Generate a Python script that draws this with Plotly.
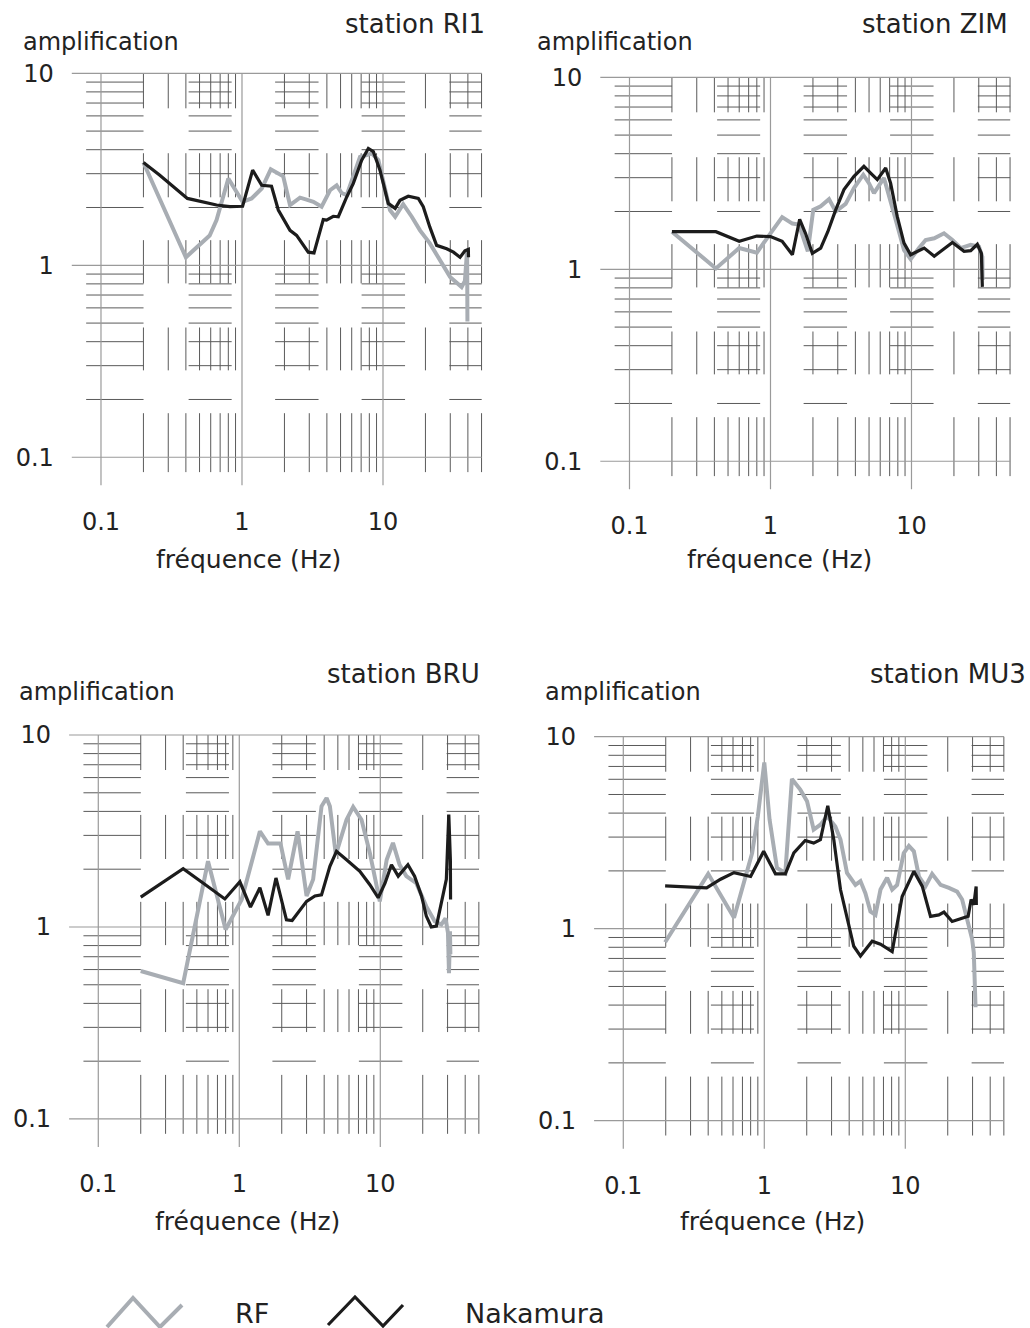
import numpy as np
import plotly.graph_objects as go

# ---------------- data ----------------
stations = ["RI1", "ZIM", "BRU", "MU3"]

ri1_nak_f = [0.20, 0.26, 0.41, 0.66, 0.82, 1.01, 1.19, 1.38, 1.62, 1.81, 2.19, 2.44, 2.95, 3.24, 3.77, 3.98,
             4.44, 4.82, 5.53, 6.16, 7.06, 7.87, 8.54, 9.52, 10.9, 12.2, 13.2, 15.1, 17.8, 19.3, 21.5, 24.0,
             28.3, 31.6, 35.2, 38.1, 40.3, 40.4]
ri1_nak_a = [3.43, 2.95, 2.23, 2.06, 2.02, 2.03, 3.13, 2.61, 2.58, 1.94, 1.52, 1.43, 1.17, 1.16, 1.73, 1.72,
             1.80, 1.79, 2.27, 2.67, 3.53, 4.06, 3.91, 3.13, 2.10, 1.98, 2.18, 2.29, 2.23, 2.02, 1.58, 1.27,
             1.22, 1.17, 1.10, 1.19, 1.21, 1.10]
ri1_rf_f = [0.20, 0.40, 0.59, 0.66, 0.80, 1.01, 1.17, 1.38, 1.60, 1.96, 2.19, 2.58, 2.87, 3.21, 3.67, 4.21,
            4.69, 5.09, 5.53, 6.16, 6.87, 7.66, 8.32, 9.27, 10.3, 11.2, 12.2, 13.9, 16.0, 18.3, 21.5, 25.3,
            29.9, 36.1, 38.1, 39.5, 39.7]
ri1_rf_a = [3.43, 1.10, 1.43, 1.72, 2.83, 2.14, 2.23, 2.51, 3.16, 2.91, 2.06, 2.25, 2.20, 2.14, 2.02, 2.46,
            2.61, 2.38, 2.32, 2.89, 3.67, 3.75, 3.83, 3.53, 2.56, 1.94, 1.79, 2.08, 1.79, 1.52, 1.30, 1.06,
            0.87, 0.77, 0.83, 1.20, 0.51]

zim_nak_f = [0.20, 0.41, 0.60, 0.80, 1.00, 1.21, 1.43, 1.61, 1.77, 1.98, 2.27, 2.55, 2.90, 3.32, 3.91, 4.60,
             5.13, 5.72, 6.56, 7.11, 7.93, 8.85, 9.86, 11.0, 12.3, 14.5, 16.6, 19.5, 23.6, 26.3, 29.3, 31.3, 31.8]
zim_nak_a = [1.57, 1.57, 1.40, 1.49, 1.48, 1.40, 1.19, 1.82, 1.54, 1.21, 1.29, 1.57, 2.04, 2.60, 3.05, 3.44,
             3.17, 2.93, 3.37, 2.81, 1.88, 1.37, 1.19, 1.24, 1.29, 1.17, 1.26, 1.38, 1.24, 1.25, 1.35, 1.21, 0.81]
zim_rf_f = [0.20, 0.41, 0.60, 0.80, 1.00, 1.21, 1.43, 1.59, 1.84, 2.01, 2.27, 2.60, 2.90, 3.41, 3.91, 4.55,
            4.99, 5.42, 6.38, 7.11, 7.85, 8.85, 9.86, 11.3, 12.6, 14.5, 17.0, 19.5, 22.3, 26.3, 30.1, 31.8, 31.9]
zim_rf_a = [1.57, 1.01, 1.29, 1.22, 1.54, 1.87, 1.73, 1.71, 1.24, 2.04, 2.13, 2.32, 2.00, 2.19, 2.65, 3.11,
            2.81, 2.49, 2.99, 2.30, 1.74, 1.26, 1.13, 1.29, 1.42, 1.45, 1.54, 1.42, 1.29, 1.34, 1.31, 1.16, 0.88]

bru_nak_f = [0.20, 0.40, 0.556, 0.79, 1.01, 1.20, 1.40, 1.60, 1.82, 2.16, 2.37, 2.69, 3.00, 3.44, 3.83, 4.39,
             4.89, 5.76, 7.16, 8.43, 9.66, 10.8, 12.0, 13.4, 15.7, 17.5, 19.6, 21.2, 23.0, 25.0, 27.1, 29.4,
             30.6, 31.4, 31.5]
bru_nak_a = [1.43, 2.01, 1.69, 1.40, 1.72, 1.27, 1.60, 1.15, 1.80, 1.09, 1.08, 1.23, 1.36, 1.45, 1.47, 2.07,
             2.48, 2.24, 1.95, 1.66, 1.42, 1.69, 2.11, 1.84, 2.11, 1.84, 1.45, 1.14, 1.00, 1.01, 1.36, 1.77,
             3.85, 2.24, 1.39]
bru_rf_f = [0.20, 0.40, 0.60, 0.80, 1.04, 1.40, 1.60, 1.96, 2.22, 2.59, 3.00, 3.34, 3.83, 4.16, 4.39, 4.84,
            5.76, 6.42, 7.36, 8.43, 9.92, 11.1, 12.3, 13.7, 15.3, 18.0, 21.2, 24.3, 27.1, 29.0, 30.2, 30.7,
            31.2, 31.4]
bru_rf_a = [0.59, 0.51, 2.20, 0.97, 1.39, 3.15, 2.72, 2.72, 1.77, 3.15, 1.45, 1.77, 4.25, 4.70, 4.25, 2.38,
            3.62, 4.22, 3.62, 2.43, 1.36, 2.24, 2.74, 2.11, 1.84, 1.69, 1.28, 1.07, 1.03, 1.11, 0.93, 0.575,
            0.95, 0.72]

mu3_nak_f = [0.198, 0.253, 0.39, 0.49, 0.61, 0.80, 0.99, 1.20, 1.41, 1.62, 1.95, 2.24, 2.50, 2.82, 3.11, 3.47,
             3.86, 4.31, 4.81, 5.82, 6.67, 8.07, 9.50, 11.5, 13.2, 15.1, 17.3, 18.8, 21.5, 25.3, 27.9, 29.3,
             30.6, 31.8, 31.9]
mu3_nak_a = [1.67, 1.66, 1.63, 1.81, 1.96, 1.87, 2.53, 1.93, 1.93, 2.48, 2.88, 2.79, 2.91, 4.37, 2.91, 1.60,
             1.16, 0.81, 0.72, 0.86, 0.83, 0.76, 1.47, 1.99, 1.66, 1.16, 1.18, 1.22, 1.09, 1.14, 1.16, 1.42,
             1.33, 1.66, 1.33]
mu3_rf_f = [0.198, 0.28, 0.40, 0.61, 0.71, 0.82, 0.90, 1.00, 1.09, 1.23, 1.41, 1.57, 1.80, 2.01, 2.24, 2.50,
            2.79, 3.19, 3.47, 3.86, 4.43, 4.81, 5.21, 5.66, 6.14, 6.67, 7.43, 8.07, 8.75, 9.75, 10.6, 11.5,
            12.5, 13.9, 15.5, 17.8, 20.4, 23.3, 25.3, 28.2, 29.8, 30.6, 31.5]
mu3_rf_a = [0.85, 1.28, 1.93, 1.14, 1.73, 2.48, 3.85, 7.35, 3.70, 2.07, 1.95, 6.02, 5.30, 4.61, 3.28, 3.48,
            3.85, 3.41, 2.91, 1.95, 1.69, 1.77, 1.53, 1.23, 1.18, 1.60, 1.84, 1.60, 1.69, 2.48, 2.70, 2.53,
            1.87, 1.66, 1.93, 1.69, 1.63, 1.56, 1.42, 1.03, 0.88, 0.75, 0.39]

rf_series = [(ri1_rf_f, ri1_rf_a), (zim_rf_f, zim_rf_a), (bru_rf_f, bru_rf_a), (mu3_rf_f, mu3_rf_a)]
nak_series = [(ri1_nak_f, ri1_nak_a), (zim_nak_f, zim_nak_a), (bru_nak_f, bru_nak_a), (mu3_nak_f, mu3_nak_a)]

tick_vals = [0.1, 1, 10]
tick_text = ["0.1", "1", "10"]
legend_names = ["RF", "Nakamura"]

# ---------------- styling / layout ----------------
W, H = 1030, 1328
XR = (-1.207, 1.70)
YR = (-1.146, 1.0)
PANEL_H = 412.0
FONT = "DejaVu Sans"
TXT = "#222222"
GRAY = "#a8adb3"
BLACK = "#1c1c1c"
MINOR_C = "#5a5a5a"
MAJOR_C = "#9a9a9a"

# panel pixel geometry: left, right, top (px)
geo = [(71.8, 481.7, 73.3), (600.3, 1010.2, 77.3), (69.1, 479.0, 735.0), (594.1, 1004.0, 736.7)]
amp_pos = [(21, 50), (535, 50), (17, 700), (543, 700)]
st_pos = [(487, 33), (1010, 33), (482, 683), (1028, 683)]
fr_pos = [(248.5, 568), (779, 568), (247, 1230), (772, 1230)]

XB = [(0.035, 0.175), (0.285, 0.39), (0.496, 0.602), (0.707, 0.813), (0.921, 1.0)]
YB = [(0.915, 1.0), (0.699, 0.806), (0.49, 0.595), (0.279, 0.383), (0.032, 0.175)]

minor_x = [m * d for d in (0.1, 1, 10) for m in range(2, 10) if m * d <= 50]
minor_y = [m * d for d in (0.1, 1) for m in range(2, 10)]


def xf(v):
    return (np.log10(v) - XR[0]) / (XR[1] - XR[0])


def yf(v):
    return (np.log10(v) - YR[0]) / (YR[1] - YR[0])


def bl_center(base, fs):
    return base - 0.346 * fs


fig = go.Figure()
shapes = []
annotations = []

for i, (left, right, top) in enumerate(geo):
    n = i + 1
    sfx = "" if n == 1 else str(n)
    bottom = top + PANEL_H
    xdom = [left / W, right / W]
    ydom = [1 - bottom / H, 1 - top / H]
    fig.update_layout(**{
        f"xaxis{sfx}": dict(domain=xdom, type="log", range=list(XR), anchor=f"y{sfx}",
                            showgrid=False, zeroline=False, showline=False, ticks="",
                            automargin=False,
                            tickvals=tick_vals, ticktext=tick_text, ticklabelstandoff=20,
                            tickfont=dict(family=FONT, size=24, color=TXT)),
        f"yaxis{sfx}": dict(domain=ydom, type="log", range=list(YR), anchor=f"x{sfx}",
                            showgrid=False, zeroline=False, showline=False, ticks="",
                            automargin=False,
                            tickvals=tick_vals, ticktext=tick_text, ticklabelstandoff=17,
                            tickfont=dict(family=FONT, size=24, color=TXT)),
    })
    xr = f"x{sfx} domain"
    yr = f"y{sfx} domain"
    # minor vertical grid segments
    for v in minor_x:
        fx = xf(v)
        for (b0, b1) in YB:
            shapes.append(dict(type="line", xref=xr, yref=yr, x0=fx, x1=fx, y0=b0, y1=b1,
                               line=dict(color=MINOR_C, width=1), layer="below"))
    # minor horizontal grid segments
    for v in minor_y:
        fy = yf(v)
        for (a0, a1) in XB:
            shapes.append(dict(type="line", xref=xr, yref=yr, x0=a0, x1=a1, y0=fy, y1=fy,
                               line=dict(color=MINOR_C, width=1), layer="below"))
    # major lines
    for v in tick_vals:
        fx = xf(v)
        shapes.append(dict(type="line", xref=xr, yref=yr, x0=fx, x1=fx, y0=0, y1=1,
                           line=dict(color=MAJOR_C, width=1.2), layer="below"))
        fy = yf(v)
        shapes.append(dict(type="line", xref=xr, yref=yr, x0=0, x1=1, y0=fy, y1=fy,
                           line=dict(color=MAJOR_C, width=1.2), layer="below"))

    # data traces
    rf_f, rf_a = rf_series[i]
    nk_f, nk_a = nak_series[i]
    fig.add_trace(go.Scatter(x=rf_f, y=rf_a, mode="lines", name=legend_names[0],
                             line=dict(color=GRAY, width=4), xaxis=f"x{sfx}", yaxis=f"y{sfx}",
                             showlegend=False))
    fig.add_trace(go.Scatter(x=nk_f, y=nk_a, mode="lines", name=legend_names[1],
                             line=dict(color=BLACK, width=3.2), xaxis=f"x{sfx}", yaxis=f"y{sfx}",
                             showlegend=False))

    # texts
    ax_, ab_ = amp_pos[i]
    annotations.append(dict(text="amplification", xref="paper", yref="paper", x=ax_ / W,
                            y=1 - bl_center(ab_, 24) / H, xanchor="left", yanchor="middle",
                            showarrow=False, font=dict(family=FONT, size=24, color=TXT)))
    sx_, sb_ = st_pos[i]
    annotations.append(dict(text=f"station {stations[i]}", xref="paper", yref="paper", x=sx_ / W,
                            y=1 - bl_center(sb_, 26) / H, xanchor="right", yanchor="middle",
                            showarrow=False, font=dict(family=FONT, size=26, color=TXT)))
    fx_, fb_ = fr_pos[i]
    annotations.append(dict(text="fréquence (Hz)", xref="paper", yref="paper", x=fx_ / W,
                            y=1 - bl_center(fb_, 25) / H, xanchor="center", yanchor="middle",
                            showarrow=False, font=dict(family=FONT, size=25, color=TXT)))

# legend drawn at the bottom: zigzag glyphs + labels
def zig(pts):
    return "M " + " L ".join(f"{x / W:.5f},{1 - y / H:.5f}" for x, y in pts)

shapes.append(dict(type="path", xref="paper", yref="paper",
                   path=zig([(107, 1327), (133, 1298), (160, 1327), (182, 1305)]),
                   line=dict(color=GRAY, width=4)))
shapes.append(dict(type="path", xref="paper", yref="paper",
                   path=zig([(328, 1325), (355, 1297), (383, 1326), (403, 1305)]),
                   line=dict(color=BLACK, width=3.2)))
annotations.append(dict(text=legend_names[0], xref="paper", yref="paper", x=233 / W,
                        y=1 - bl_center(1323, 27) / H, xanchor="left", yanchor="middle",
                        showarrow=False, font=dict(family=FONT, size=27, color=TXT)))
annotations.append(dict(text=legend_names[1], xref="paper", yref="paper", x=463 / W,
                        y=1 - bl_center(1323, 27) / H, xanchor="left", yanchor="middle",
                        showarrow=False, font=dict(family=FONT, size=27, color=TXT)))

fig.update_layout(width=W, height=H, margin=dict(l=0, r=0, t=0, b=0, autoexpand=False),
                  paper_bgcolor="white", plot_bgcolor="white", showlegend=False,
                  hovermode=False, shapes=shapes, annotations=annotations)

fig.write_html("out.html", config={"displayModeBar": False, "staticPlot": True},
               post_script="document.body.style.margin='0';document.body.style.overflow='hidden';")
